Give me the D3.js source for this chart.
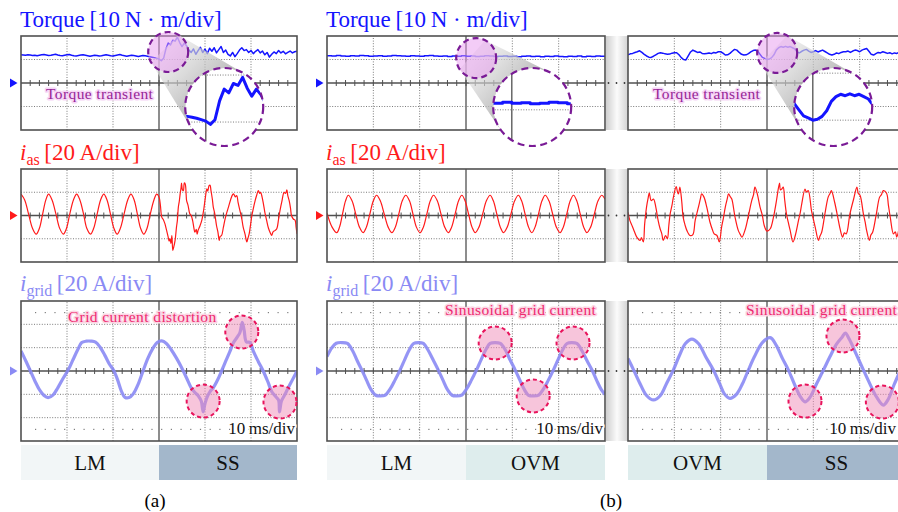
<!DOCTYPE html>
<html>
<head>
<meta charset="utf-8">
<script src="https://cdn.jsdelivr.net/npm/d3@7"></script>
<style>
  body { margin: 0; background: #fff; }
  svg { display: block; font-family: "Liberation Serif", "Times New Roman", serif; }
</style>
</head>
<body>
<svg id="chart" width="898" height="512"></svg>
<script>
// ---- data (all values in scope divisions) ----
// torque traces, evenly sampled over the 6 horizontal divisions
var torqueA = [
  1.20,1.19,1.18,1.20,1.19,1.17,1.18,1.16,1.18,1.20,
  1.21,1.19,1.17,1.18,1.20,1.22,1.19,1.17,1.16,1.18,
  1.20,1.21,1.18,1.16,1.15,1.17,1.19,1.20,1.18,1.16,
  1.14,1.16,1.18,1.17,1.15,1.16,1.18,1.20,1.18,1.16,
  1.15,1.17,1.19,1.21,1.18,1.16,1.14,1.16,1.18,1.17,
  1.15,1.13,1.15,1.17,1.16,1.14,1.12,1.10,1.08,1.05,
  1.02,0.95,1.05,1.45,1.70,1.62,1.82,1.78,1.95,1.72,
  1.55,1.70,1.58,1.40,1.30,1.45,1.22,1.38,1.52,1.30,
  1.44,1.25,1.48,1.35,1.50,1.28,1.42,1.55,1.30,1.40,
  1.22,1.15,1.30,1.12,1.25,1.40,1.50,1.38,1.42,1.30,
  1.38,1.25,1.35,1.42,1.28,1.36,1.20,1.30,1.10,1.22,
  1.32,1.25,1.38,1.28,1.35,1.24,1.30,1.36,1.28,1.33,
  1.35
];
var torqueB1 = [
  1.16,1.15,1.17,1.15,1.14,1.16,1.15,1.17,1.16,1.14,
  1.15,1.16,1.14,1.15,1.17,1.16,1.15,1.14,1.16,1.15,
  1.14,1.16,1.17,1.15,1.14,1.15,1.13,1.15,1.14,1.16,
  1.14,1.15,1.13,1.14,1.16,1.15,1.13,1.14,1.15,1.13,
  1.14,1.12,1.14,1.15,1.13,1.14,1.12,1.14,1.13,1.15,
  1.13,1.12,1.14,1.13,1.15,1.12,1.14,1.13,1.15,1.14,
  1.15
];
var torqueB2 = [
  1.20,1.24,1.26,1.30,1.33,1.37,1.30,1.22,1.15,1.10,
  1.09,1.14,1.20,1.26,1.29,1.27,1.24,1.22,1.23,1.27,
  1.29,1.29,1.20,1.08,1.00,0.98,1.15,1.32,1.40,1.35,
  1.30,1.32,1.26,1.24,1.26,1.28,1.25,1.30,1.28,1.33,
  1.33,1.27,1.19,1.20,1.26,1.35,1.43,1.40,1.30,1.22,
  1.19,1.20,1.25,1.32,1.38,1.40,1.35,1.22,1.09,1.05,
  1.00,1.02,1.08,1.20,1.40,1.50,1.55,1.52,1.56,1.52,
  1.55,1.50,1.45,1.32,1.28,1.35,1.40,1.43,1.36,1.30,
  1.33,1.38,1.32,1.36,1.40,1.34,1.28,1.22,1.19,1.22,
  1.28,1.25,1.30,1.33,1.33,1.36,1.30,1.36,1.40,1.38,
  1.33,1.40,1.44,1.47,1.35,1.22,1.19,1.25,1.30,1.28,
  1.33,1.30,1.26,1.29,1.24,1.28,1.26,1.30,1.28,1.32,
  1.30
];

// stator current i_as  [time (div), value (div)]
var iasA = [
  [0,0.92],[0.08,0.67],[0.165,0.06],[0.25,-0.55],[0.33,-0.80],[0.40,-0.55],[0.47,0.06],[0.54,0.67],[0.60,0.92],
  [0.675,0.67],[0.76,0.06],[0.84,-0.55],[0.92,-0.80],[0.99,-0.55],[1.06,0.06],[1.14,0.67],[1.21,0.92],
  [1.28,0.67],[1.36,0.06],[1.43,-0.55],[1.51,-0.80],[1.58,-0.55],[1.655,0.06],[1.73,0.67],[1.80,0.92],
  [1.87,0.67],[1.945,0.06],[2.02,-0.55],[2.09,-0.80],[2.16,-0.55],[2.24,0.06],[2.32,0.67],[2.39,0.92],
  [2.46,0.67],[2.53,0.06],[2.60,-0.55],[2.67,-0.80],[2.74,-0.55],[2.81,0.06],[2.89,0.67],[2.95,0.92],
  [3.0,0.80],[3.03,0.45],[3.06,-0.07],[3.10,-0.20],[3.13,-0.36],[3.16,-0.60],[3.20,-0.93],[3.22,-1.10],
  [3.24,-1.00],[3.26,-1.20],[3.28,-0.86],[3.30,-1.50],[3.32,-1.36],[3.35,-1.07],[3.38,-0.50],[3.40,-0.20],
  [3.42,0.35],[3.44,0.60],[3.46,0.93],[3.48,1.20],[3.49,1.39],[3.51,1.10],[3.53,1.07],[3.55,1.40],
  [3.57,1.36],[3.59,0.90],[3.60,0.64],[3.63,0.45],[3.67,0.07],[3.70,0.0],[3.73,-0.21],[3.76,-0.55],
  [3.78,-0.72],[3.81,-0.60],[3.83,-0.80],[3.85,-0.64],[3.89,-0.45],[3.93,-0.21],[3.96,0.10],[3.98,0.36],
  [4.01,0.80],[4.04,1.15],[4.06,1.05],[4.09,1.29],[4.11,1.30],[4.13,1.07],[4.16,0.70],[4.18,0.36],
  [4.21,0.10],[4.25,-0.43],[4.28,-0.70],[4.31,-1.07],[4.33,-0.90],[4.36,-0.86],[4.40,-0.50],[4.43,-0.21],
  [4.47,0.10],[4.51,0.36],[4.56,0.70],[4.60,0.90],[4.62,0.93],[4.66,0.80],[4.69,0.86],[4.72,0.55],
  [4.76,0.21],[4.80,-0.15],[4.83,-0.50],[4.87,-0.80],[4.91,-1.14],[4.93,-1.00],[4.96,-0.79],[4.99,-0.40],
  [5.02,0.0],[5.05,0.30],[5.09,0.64],[5.12,0.85],[5.16,1.07],[5.19,0.95],[5.21,1.00],[5.24,0.80],
  [5.27,0.50],[5.30,0.15],[5.34,-0.21],[5.38,-0.55],[5.42,-0.75],[5.45,-0.86],[5.48,-0.70],[5.52,-0.65],
  [5.56,-0.57],[5.60,-0.15],[5.63,0.21],[5.67,0.60],[5.72,1.00],[5.75,0.95],[5.78,1.10],[5.80,0.85],
  [5.83,0.64],[5.86,0.30],[5.88,0.0],[5.92,-0.15],[5.96,-0.21],[5.98,-0.50],[6.0,-0.79]
];
var iasB1 = [
  [0,0.10],[0.11,-0.50],[0.21,-0.74],[0.27,-0.50],[0.335,0.065],[0.40,0.63],[0.46,0.87],
  [0.54,0.63],[0.62,0.065],[0.70,-0.50],[0.78,-0.74],[0.85,-0.50],[0.925,0.065],[1.0,0.63],[1.07,0.87],
  [1.15,0.63],[1.235,0.065],[1.32,-0.50],[1.40,-0.74],[1.475,-0.50],[1.55,0.065],[1.625,0.63],[1.70,0.87],
  [1.78,0.63],[1.855,0.065],[1.93,-0.50],[2.01,-0.74],[2.08,-0.50],[2.155,0.065],[2.23,0.63],[2.30,0.87],
  [2.38,0.63],[2.46,0.065],[2.54,-0.50],[2.62,-0.74],[2.69,-0.50],[2.765,0.065],[2.84,0.63],[2.91,0.87],
  [2.98,0.63],[3.055,0.065],[3.13,-0.50],[3.20,-0.74],[3.28,-0.50],[3.36,0.065],[3.44,0.63],[3.52,0.87],
  [3.59,0.63],[3.665,0.065],[3.74,-0.50],[3.81,-0.74],[3.89,-0.50],[3.97,0.065],[4.05,0.63],[4.13,0.87],
  [4.20,0.63],[4.275,0.065],[4.35,-0.50],[4.42,-0.74],[4.49,-0.50],[4.565,0.065],[4.64,0.63],[4.71,0.87],
  [4.79,0.63],[4.87,0.065],[4.95,-0.50],[5.03,-0.74],[5.10,-0.50],[5.175,0.065],[5.25,0.63],[5.32,0.87],
  [5.39,0.63],[5.465,0.065],[5.54,-0.50],[5.61,-0.74],[5.69,-0.50],[5.77,0.065],[5.85,0.63],[5.93,0.87],
  [6.0,0.70]
];
var iasB2 = [
  [0,0.14],[0.04,-0.21],[0.09,-0.45],[0.14,-0.70],[0.19,-0.93],[0.26,-1.07],[0.29,-0.95],[0.33,-1.14],
  [0.36,-0.36],[0.40,0.36],[0.43,0.70],[0.46,0.96],[0.50,0.64],[0.55,0.71],[0.60,0.36],[0.65,-0.21],
  [0.69,-0.55],[0.73,-0.79],[0.76,-1.07],[0.81,-0.86],[0.85,-1.00],[0.88,-0.45],[0.91,0.07],[0.95,0.45],
  [0.98,0.79],[1.04,1.24],[1.07,1.00],[1.09,0.93],[1.12,1.22],[1.16,0.60],[1.19,-0.07],[1.23,-0.40],
  [1.27,-0.64],[1.34,-0.86],[1.40,-0.82],[1.45,-0.21],[1.52,0.36],[1.56,0.70],[1.59,0.93],[1.64,0.79],
  [1.70,0.36],[1.77,-0.29],[1.82,-0.60],[1.86,-0.79],[1.92,-0.86],[1.97,-1.14],[2.02,-0.50],[2.06,-0.10],
  [2.10,0.36],[2.14,0.70],[2.17,0.93],[2.21,0.80],[2.24,0.71],[2.31,-0.07],[2.38,-0.64],[2.42,-0.80],
  [2.46,-0.93],[2.53,-0.60],[2.60,0.0],[2.67,0.64],[2.71,0.90],[2.74,1.22],[2.79,0.93],[2.85,0.36],
  [2.90,0.00],[2.94,-0.43],[3.0,-0.67],[3.07,-0.57],[3.14,-0.07],[3.18,0.35],[3.21,0.71],[3.27,1.39],
  [3.29,1.10],[3.32,1.14],[3.35,1.22],[3.38,0.70],[3.42,0.07],[3.46,-0.30],[3.50,-0.64],[3.56,-1.14],
  [3.61,-0.86],[3.68,-0.21],[3.72,0.15],[3.75,0.50],[3.82,1.14],[3.85,1.00],[3.89,1.07],[3.96,0.21],
  [4.00,-0.15],[4.04,-0.50],[4.11,-1.07],[4.14,-0.90],[4.18,-0.72],[4.25,0.07],[4.32,0.79],[4.36,0.95],
  [4.39,1.07],[4.46,0.57],[4.54,-0.21],[4.58,-0.60],[4.63,-0.93],[4.67,-0.75],[4.71,-0.79],[4.79,0.07],
  [4.87,0.71],[4.94,1.22],[4.97,0.95],[5.01,0.86],[5.08,0.07],[5.12,-0.30],[5.15,-0.64],[5.21,-1.07],
  [5.24,-0.85],[5.28,-0.72],[5.36,0.07],[5.43,0.79],[5.47,0.90],[5.51,1.07],[5.58,0.96],[5.62,0.45],
  [5.66,-0.07],[5.73,-0.79],[5.77,-0.70],[5.80,-0.93],[5.86,-0.50],[5.92,-0.20],[6.0,0.60]
];

// grid current i_grid  [time (div), value (div)]
var gridA = [
  [0,0.86],[0.1,0.45],[0.2,0.02],[0.3,-0.42],[0.4,-0.80],[0.5,-1.05],[0.59,-1.14],[0.7,-1.02],
  [0.8,-0.72],[0.92,-0.30],[1.03,0.06],[1.13,0.48],[1.23,0.90],[1.32,1.22],[1.42,1.28],[1.52,1.28],
  [1.62,1.24],[1.72,1.02],[1.82,0.68],[1.92,0.30],[2.01,0.04],[2.10,-0.38],[2.18,-0.85],[2.26,-1.13],
  [2.35,-1.14],[2.44,-0.98],[2.55,-0.55],[2.66,0.04],[2.76,0.55],[2.86,0.95],[2.96,1.22],[3.06,1.29],
  [3.16,1.18],[3.27,0.90],[3.38,0.55],[3.49,0.15],[3.60,-0.30],[3.70,-0.72],[3.78,-0.92],[3.86,-1.08],
  [3.92,-1.30],[3.96,-1.75],[4.00,-1.40],[4.05,-1.10],[4.11,-0.88],[4.18,-0.72],[4.27,-0.40],[4.36,0.0],
  [4.45,0.42],[4.54,0.83],[4.62,1.22],[4.70,1.45],[4.76,1.65],[4.81,2.09],[4.85,1.75],[4.90,1.25],
  [4.98,1.22],[5.05,0.85],[5.16,0.40],[5.27,-0.02],[5.37,-0.48],[5.45,-0.88],[5.54,-1.10],[5.60,-1.25],
  [5.62,-1.75],[5.66,-1.30],[5.74,-1.00],[5.81,-0.72],[5.90,-0.38],[6.0,0.0]
];
var gridB1 = [
  [0,0.62],[0.1,0.98],[0.2,1.19],[0.32,1.22],[0.44,1.18],[0.55,0.88],[0.65,0.45],[0.75,0.05],
  [0.85,-0.38],[0.95,-0.80],[1.05,-1.04],[1.15,-1.07],[1.26,-1.03],[1.36,-0.78],[1.47,-0.38],[1.58,0.06],
  [1.68,0.50],[1.78,0.92],[1.87,1.18],[1.97,1.22],[2.08,1.18],[2.18,0.90],[2.29,0.48],[2.40,0.05],
  [2.50,-0.38],[2.60,-0.80],[2.70,-1.04],[2.80,-1.07],[2.91,-1.03],[3.01,-0.78],[3.12,-0.38],[3.23,0.06],
  [3.33,0.50],[3.43,0.92],[3.52,1.18],[3.63,1.22],[3.74,1.18],[3.85,0.90],[3.95,0.48],[4.06,0.05],
  [4.16,-0.38],[4.26,-0.80],[4.35,-1.04],[4.46,-1.07],[4.57,-1.03],[4.67,-0.78],[4.78,-0.38],[4.89,0.06],
  [4.99,0.50],[5.09,0.92],[5.18,1.18],[5.28,1.22],[5.39,1.18],[5.50,0.88],[5.61,0.45],[5.72,0.04],
  [5.82,-0.40],[5.92,-0.80],[6.0,-1.0]
];
var gridB2 = [
  [0,0.54],[0.12,0.05],[0.25,-0.50],[0.40,-1.05],[0.55,-1.24],[0.70,-1.05],[0.84,-0.50],[0.98,0.05],
  [1.10,0.62],[1.24,1.18],[1.38,1.37],[1.52,1.18],[1.68,0.60],[1.84,0.05],[1.98,-0.55],[2.08,-0.98],
  [2.20,-1.17],[2.34,-1.00],[2.47,-0.55],[2.60,0.05],[2.73,0.62],[2.90,1.22],[3.07,1.43],[3.20,1.10],
  [3.33,0.55],[3.46,0.05],[3.60,-0.60],[3.72,-1.10],[3.82,-1.32],[3.92,-1.15],[4.07,-0.55],[4.22,0.05],
  [4.36,0.62],[4.50,1.15],[4.62,1.45],[4.69,1.62],[4.78,1.35],[4.93,0.70],[5.08,0.05],[5.22,-0.55],
  [5.36,-1.10],[5.51,-1.46],[5.62,-1.20],[5.74,-0.60],[5.85,-0.10],[6.0,0.55]
];

// operating modes shown under each record (left half, right half)
var modesA = ["LM", "SS"];
var modesB1 = ["LM", "OVM"];
var modesB2 = ["OVM", "SS"];

// highlighted points on the grid current [time, value]
var hotA = [[3.96, -1.29], [4.80, 1.67], [5.63, -1.33]];
var hotB1 = [[3.63, 1.20], [4.45, -1.07], [5.31, 1.20]];
var hotB2 = [[3.82, -1.29], [4.64, 1.50], [5.49, -1.33]];

// torque spot that is magnified [time, value]
var spotA = [3.2, 1.32];
var spotB1 = [3.22, 1.06];
var spotB2 = [3.22, 1.28];

var gridNotes = ["Grid current distortion", "Sinusoidal grid current", "Sinusoidal grid current"];

// ---- layout ----
var svg = d3.select("#chart");
var defs = svg.append("defs");

var cols = [
  { x0: 21, w: 276, torque: torqueA, ias: iasA, grid: gridA, modes: modesA, hot: hotA, spot: spotA, step: false, marker: true },
  { x0: 327, w: 278, torque: torqueB1, ias: iasB1, grid: gridB1, modes: modesB1, hot: hotB1, spot: spotB1, step: true, marker: true },
  { x0: 628, w: 278, torque: torqueB2, ias: iasB2, grid: gridB2, modes: modesB2, hot: hotB2, spot: spotB2, step: false, marker: false }
];
var rows = {
  torque: { y0: 36, h: 94, n: 4, color: "#1414ff" },
  ias: { y0: 169, h: 93, n: 4, color: "#ff1a1a" },
  grid: { y0: 301, h: 140, n: 6, color: "#8a8af4" }
};
var modeColor = d3.scaleOrdinal().domain(["LM", "OVM", "SS"]).range(["#f2f6f7", "#deeded", "#a3b7cb"]);

function xScale(c) { return d3.scaleLinear().domain([0, 6]).range([c.x0, c.x0 + c.w]); }
function yScale(r) { return d3.scaleLinear().domain([-r.n / 2, r.n / 2]).range([r.y0 + r.h, r.y0]); }
function even(arr) { return arr.map(function (v, i) { return [i * 6 / (arr.length - 1), v]; }); }

// scope graticule
function drawGrid(g, x, y, n, inset) {
  var half = n / 2;
  var vx = d3.range(1, 6);
  var hy = inset ? d3.range(-half, half + 1) : d3.range(-half + 1, half);
  var y0 = inset ? y(-half - 1) : y(-half), y1 = inset ? y(half + 1) : y(half);
  var x0 = inset ? x(-1) : x(0), x1 = inset ? x(7) : x(6);
  g.selectAll(null).data(vx).join("line")
    .attr("x1", function (d) { return x(d); }).attr("x2", function (d) { return x(d); })
    .attr("y1", y0).attr("y2", y1)
    .attr("stroke", function (d) { return d === 3 ? "#505050" : "#7a7a7a"; })
    .attr("stroke-width", function (d) { return d === 3 ? 1.3 : 1; })
    .attr("stroke-dasharray", function (d) { return d === 3 ? null : "1,1.6"; })
    .attr("vector-effect", "non-scaling-stroke");
  g.selectAll(null).data(hy).join("line")
    .attr("y1", function (d) { return y(d); }).attr("y2", function (d) { return y(d); })
    .attr("x1", x0).attr("x2", x1)
    .attr("stroke", function (d) { return d === 0 ? "#505050" : "#7a7a7a"; })
    .attr("stroke-width", function (d) { return d === 0 ? 1.3 : 1; })
    .attr("stroke-dasharray", function (d) { return d === 0 ? null : "1,1.6"; })
    .attr("vector-effect", "non-scaling-stroke");
  if (inset) return;
  if (n === 6) {
    g.selectAll(null).data([-2.5, 2.5]).join("line")
      .attr("y1", function (d) { return y(d); }).attr("y2", function (d) { return y(d); })
      .attr("x1", x(0) + 14).attr("x2", x(6) - 6)
      .attr("stroke", "#666").attr("stroke-dasharray", "1.2,8.5");
  }
  g.selectAll(null).data(d3.range(0.2, 6, 0.2)).join("line")
    .attr("x1", function (d) { return x(d); }).attr("x2", function (d) { return x(d); })
    .attr("y1", y(0) - 3).attr("y2", y(0) + 3)
    .attr("stroke", "#505050").attr("stroke-width", 1);
}

var lineGen = function (x, y, curve) {
  return d3.line().x(function (d) { return x(d[0]); }).y(function (d) { return y(d[1]); }).curve(curve);
};

// gap shading between the two records of (b)
var gapGrad = defs.append("linearGradient").attr("id", "gap").attr("x1", 0).attr("x2", 1).attr("y1", 0).attr("y2", 0);
gapGrad.append("stop").attr("offset", 0).attr("stop-color", "#cfcfcf");
gapGrad.append("stop").attr("offset", 0.5).attr("stop-color", "#fbfbfb");
gapGrad.append("stop").attr("offset", 1).attr("stop-color", "#d2d2d2");

Object.keys(rows).forEach(function (k) {
  var r = rows[k];
  svg.append("rect").attr("x", 606).attr("y", r.y0).attr("width", 22).attr("height", r.h).attr("fill", "url(#gap)");
  svg.selectAll(null).data([608.5, 616.5, 624.5]).join("circle")
    .attr("cx", function (d) { return d; }).attr("cy", r.y0 + r.h / 2).attr("r", 0.9).attr("fill", "#333");
});

cols.forEach(function (c, ci) {
  var x = xScale(c);
  Object.keys(rows).forEach(function (k) {
    var r = rows[k];
    var y = yScale(r);
    var g = svg.append("g");
    var cid = "clip" + ci + k;
    defs.append("clipPath").attr("id", cid).append("rect")
      .attr("x", c.x0).attr("y", r.y0).attr("width", c.w).attr("height", r.h);
    g.append("rect").attr("x", c.x0).attr("y", r.y0).attr("width", c.w).attr("height", r.h).attr("fill", "#fff");
    drawGrid(g, x, y, r.n, false);

    var data, curve, width;
    if (k === "torque") { data = even(c.torque); curve = c.step ? d3.curveStepAfter : d3.curveLinear; width = 1.5; }
    if (k === "ias") { data = c.ias; curve = d3.curveCatmullRom; width = 1.2; }
    if (k === "grid") { data = c.grid; curve = d3.curveCatmullRom; width = 3.2; }
    g.append("path").datum(data)
      .attr("clip-path", "url(#" + cid + ")")
      .attr("d", lineGen(x, y, curve))
      .attr("fill", "none").attr("stroke", r.color).attr("stroke-width", width)
      .attr("stroke-opacity", k === "grid" ? 0.9 : 1).attr("stroke-linejoin", "round");

    g.append("rect").attr("x", c.x0).attr("y", r.y0).attr("width", c.w).attr("height", r.h)
      .attr("fill", "none").attr("stroke", "#505050").attr("stroke-width", 1.6);

    if (c.marker) {
      var cy = y(0);
      g.append("path")
        .attr("d", "M" + (c.x0 - 11) + "," + (cy - 4.5) + "L" + (c.x0 - 3.5) + "," + cy + "L" + (c.x0 - 11) + "," + (cy + 4.5) + "Z")
        .attr("fill", r.color);
    }
  });

  // highlighted grid current points
  var yg = yScale(rows.grid);
  svg.append("g").selectAll("circle").data(c.hot).join("circle")
    .attr("cx", function (d) { return x(d[0]); }).attr("cy", function (d) { return yg(d[1]); })
    .attr("r", 16.5).attr("fill", "#f08cb8").attr("fill-opacity", 0.5)
    .attr("stroke", "#e8145c").attr("stroke-width", 2).attr("stroke-dasharray", "4,3");

  svg.append("text")
    .attr("x", c.x0 + (ci === 0 ? 47 : 118)).attr("y", ci === 0 ? 322 : 315)
    .attr("font-size", 15.5).attr("letter-spacing", 0.4)
    .attr("fill", "#ee2a70").attr("stroke", "#fbd6e4").attr("stroke-width", 3)
    .attr("paint-order", "stroke").attr("stroke-linejoin", "round")
    .text(gridNotes[ci]);

  svg.append("text")
    .attr("x", Math.min(c.x0 + c.w - 2, 896)).attr("y", 434).attr("text-anchor", "end")
    .attr("font-size", 17).attr("fill", "#111")
    .attr("stroke", "#fff").attr("stroke-width", 3).attr("paint-order", "stroke")
    .text("10\u2009ms/div");

  // torque zoom inset
  var yt = yScale(rows.torque);
  var sx = x(c.spot[0]), sy = yt(c.spot[1]);
  var bx = sx + 56, by = 107, rs = 20, rb = 39;
  var th = Math.atan2(by - sy, bx - sx), D = Math.hypot(bx - sx, by - sy);
  var a = Math.acos((rs - rb) / D);
  var poly = [
    [sx + rs * Math.cos(th + a), sy + rs * Math.sin(th + a)],
    [bx + rb * Math.cos(th + a), by + rb * Math.sin(th + a)],
    [bx + rb * Math.cos(th - a), by + rb * Math.sin(th - a)],
    [sx + rs * Math.cos(th - a), sy + rs * Math.sin(th - a)]
  ];
  var sg = defs.append("linearGradient").attr("id", "shade" + ci).attr("gradientUnits", "userSpaceOnUse")
    .attr("x1", sx).attr("y1", sy).attr("x2", bx).attr("y2", by);
  sg.append("stop").attr("offset", 0).attr("stop-color", "#e4e4e4").attr("stop-opacity", 0.6);
  sg.append("stop").attr("offset", 1).attr("stop-color", "#979797").attr("stop-opacity", 0.85);
  svg.append("path").attr("d", "M" + poly.join("L") + "Z").attr("fill", "url(#shade" + ci + ")");

  svg.append("circle").attr("cx", sx).attr("cy", sy).attr("r", rs)
    .attr("fill", "#e79af0").attr("fill-opacity", 0.5)
    .attr("stroke", "#7a1b96").attr("stroke-width", 2.2).attr("stroke-dasharray", "6,4");

  defs.append("clipPath").attr("id", "lens" + ci).append("circle").attr("cx", bx).attr("cy", by).attr("r", rb);
  var lens = svg.append("g").attr("clip-path", "url(#lens" + ci + ")");
  lens.append("circle").attr("cx", bx).attr("cy", by).attr("r", rb).attr("fill", "#fff");
  var inner = lens.append("g").attr("transform", "translate(" + bx + "," + by + ") scale(2) translate(" + (-sx) + "," + (-sy) + ")");
  drawGrid(inner, x, yt, rows.torque.n, true);
  inner.append("path").datum(even(c.torque))
    .attr("d", lineGen(x, yt, c.step ? d3.curveStepAfter : d3.curveLinear))
    .attr("fill", "none").attr("stroke", rows.torque.color).attr("stroke-width", 1.5).attr("stroke-linejoin", "round");
  svg.append("circle").attr("cx", bx).attr("cy", by).attr("r", rb)
    .attr("fill", "none").attr("stroke", "#7a1b96").attr("stroke-width", 2.2).attr("stroke-dasharray", "7,4.5");

  if (ci !== 1) {
    svg.append("text").attr("x", c.x0 + 25).attr("y", 99)
      .attr("font-size", 15.5).attr("letter-spacing", 0.4)
      .attr("fill", "#962596").attr("stroke", "#f6d6f6").attr("stroke-width", 3)
      .attr("paint-order", "stroke").attr("stroke-linejoin", "round")
      .text("Torque transient");
  }

  // mode bar
  var mb = svg.append("g");
  mb.selectAll("rect").data(c.modes).join("rect")
    .attr("x", function (d, i) { return x(i * 3); }).attr("y", 445)
    .attr("width", function (d, i) { return x(3) - x(0); }).attr("height", 35)
    .attr("fill", function (d) { return modeColor(d); });
  mb.selectAll("text").data(c.modes).join("text")
    .attr("x", function (d, i) { return x(i * 3 + 1.5); }).attr("y", 469.5)
    .attr("text-anchor", "middle").attr("font-size", 21).attr("fill", "#111")
    .text(function (d) { return d; });
});

// titles
function title(x0, yb, color, main, sub, unit) {
  var t = svg.append("text").attr("x", x0).attr("y", yb).attr("fill", color).attr("font-size", 23);
  if (sub) {
    t.append("tspan").attr("font-style", "italic").text(main);
    t.append("tspan").attr("font-size", 16).attr("dy", 5).text(sub);
    t.append("tspan").attr("dy", -5).text("\u2009" + unit);
  } else {
    t.append("tspan").text(main + "\u2009" + unit);
  }
}
[21, 327].forEach(function (x0) {
  title(x0 - 1, 27, rows.torque.color, "Torque", null, "[10\u2009N \u00b7 m/div]");
  title(x0 - 1, 160, rows.ias.color, "i", "as", "[20\u2009A/div]");
  title(x0 - 1, 291, rows.grid.color, "i", "grid", "[20\u2009A/div]");
});

svg.append("text").attr("x", 155).attr("y", 507).attr("text-anchor", "middle").attr("font-size", 19).text("(a)");
svg.append("text").attr("x", 611).attr("y", 507).attr("text-anchor", "middle").attr("font-size", 19).text("(b)");
</script>
</body>
</html>
